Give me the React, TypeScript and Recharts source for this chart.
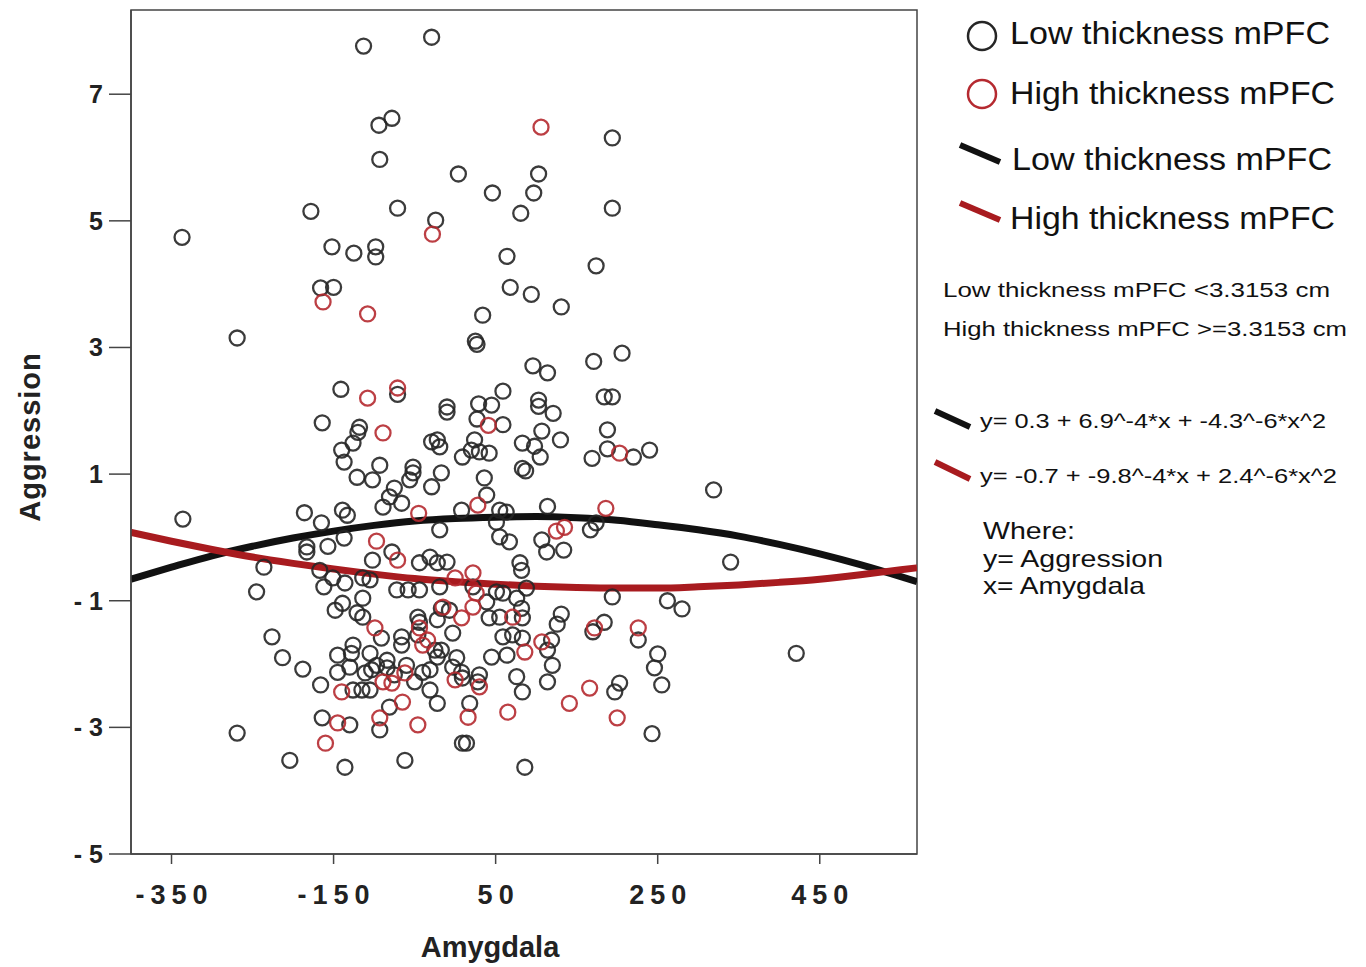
import React from 'react';
import { ComposedChart, Scatter, Line, XAxis, YAxis, ReferenceArea } from 'recharts';

// Amygdala (x) vs Aggression (y)
const lowThickness: [number, number][] = [
  [-113, 7.76], [-29, 7.9], [-94, 6.51], [-78, 6.62], [-93, 5.97], [4, 5.74], [46, 5.44], [103, 5.74],
  [97, 5.44], [81, 5.12], [194, 6.31], [194, 5.2], [-71, 5.2], [-24, 5.01], [-178, 5.15], [-337, 4.74],
  [-152, 4.59], [-125, 4.49], [-98, 4.59], [-98, 4.43], [-166, 3.94], [-150, 3.95], [64, 4.44], [68, 3.95],
  [94, 3.84], [174, 4.29], [131, 3.64], [34, 3.51], [25, 3.1], [27, 3.05], [-269, 3.15], [206, 2.91],
  [171, 2.78], [96, 2.71], [114, 2.6], [-141, 2.34], [-71, 2.26], [59, 2.31], [184, 2.22], [194, 2.22],
  [103, 2.17], [-10, 2.06], [-10, 1.98], [29, 2.11], [45, 2.09], [27, 1.87], [59, 1.78], [-118, 1.74],
  [-120, 1.66], [-29, 1.51], [-22, 1.54], [-19, 1.43], [24, 1.54], [-126, 1.49], [-137, 1.19], [9, 1.27],
  [20, 1.38], [30, 1.35], [42, 1.33], [83, 1.49], [83, 1.09], [-93, 1.14], [-121, 0.95], [-102, 0.91],
  [-52, 1.11], [-52, 1.02], [-56, 0.91], [-17, 1.02], [-29, 0.8], [36, 0.94], [39, 0.67], [-75, 0.78],
  [-81, 0.64], [-66, 0.54], [-89, 0.48], [-139, 0.43], [-133, 0.35], [8, 0.43], [-19, 0.12], [55, 0.43],
  [63, 0.4], [51, 0.24], [55, 0.01], [67, -0.07], [-137, -0.01], [-78, -0.23], [-102, -0.36], [-44, -0.4],
  [-31, -0.31], [-22, -0.4], [-10, -0.39], [80, -0.4], [82, -0.52], [-114, -0.64], [-164, 1.81], [-140, 1.38],
  [-336, 0.29], [-186, 0.39], [-165, 0.23], [-183, -0.15], [-183, -0.23], [-157, -0.14], [-236, -0.47],
  [-167, -0.52], [-151, -0.64], [103, 2.07], [121, 1.96], [107, 1.68], [188, 1.7], [130, 1.54], [98, 1.44],
  [105, 1.27], [87, 1.05], [169, 1.25], [188, 1.4], [220, 1.27], [240, 1.38], [319, 0.75], [114, 0.49],
  [167, 0.12], [174, 0.23], [107, -0.04], [113, -0.23], [134, -0.2], [340, -0.39], [-245, -0.86],
  [-226, -1.57], [-213, -1.9], [-188, -2.08], [-166, -2.33], [-269, -3.09], [-204, -3.52], [-164, -2.85],
  [-162, -0.78], [-148, -1.15], [-139, -1.04], [-145, -1.86], [-145, -2.13], [-136, -3.63], [-136, -0.72],
  [-105, -0.67], [-72, -0.83], [-58, -0.83], [-44, -0.83], [-19, -0.78], [22, -0.78], [51, -0.86], [59, -0.88],
  [76, -0.96], [88, -0.8], [-114, -0.96], [-121, -1.19], [-114, -1.26], [-17, -1.12], [-7, -1.15], [39, -1.02],
  [42, -1.27], [55, -1.26], [82, -1.12], [-46, -1.26], [-44, -1.34], [-22, -1.3], [-91, -1.59], [-66, -1.57],
  [-66, -1.7], [-46, -1.54], [-3, -1.51], [59, -1.57], [71, -1.54], [83, -1.59], [64, -1.86], [45, -1.89],
  [-126, -1.7], [-128, -1.83], [-105, -1.83], [-130, -2.05], [-111, -2.14], [-103, -2.09], [-97, -2.02],
  [-84, -1.94], [-84, -2.06], [-60, -2.02], [-40, -2.13], [-31, -2.09], [-25, -1.78], [-17, -1.78], [-22, -1.89],
  [2, -1.9], [-3, -2.05], [8, -2.13], [9, -2.22], [30, -2.17], [28, -2.28], [76, -2.2], [83, -2.44],
  [-75, -2.17], [-50, -2.28], [-31, -2.41], [-126, -2.41], [-115, -2.41], [-105, -2.41], [-81, -2.68],
  [-22, -2.62], [-93, -3.04], [18, -2.62], [9, -3.25], [14, -3.25], [-130, -2.96], [-62, -3.52], [86, -3.63],
  [194, -0.94], [262, -1.0], [280, -1.13], [131, -1.21], [126, -1.37], [184, -1.34], [170, -1.49], [226, -1.62],
  [83, -1.27], [119, -1.62], [114, -1.78], [120, -2.02], [250, -1.84], [246, -2.06], [255, -2.33], [114, -2.28],
  [203, -2.3], [197, -2.44], [243, -3.1], [421, -1.83],
];

const highThickness: [number, number][] = [
  [106, 6.48], [-28, 4.79], [-163, 3.72], [-108, 3.53], [-108, 2.2], [-71, 2.36], [-89, 1.65], [41, 1.77],
  [28, 0.51], [-45, 0.38], [-97, -0.06], [-71, -0.36], [22, -0.56], [0, -0.64], [203, 1.33], [186, 0.46],
  [125, 0.1], [135, 0.16], [-140, -2.44], [-145, -2.93], [-160, -3.25], [26, -0.88], [-15, -1.1], [22, -1.1],
  [8, -1.27], [71, -1.26], [-99, -1.43], [-44, -1.43], [-34, -1.62], [86, -1.81], [-40, -1.7], [-62, -2.14],
  [0, -2.25], [30, -2.36], [-89, -2.28], [-78, -2.3], [-65, -2.6], [-93, -2.85], [-46, -2.96], [16, -2.84],
  [65, -2.76], [172, -1.43], [226, -1.43], [107, -1.65], [166, -2.38], [141, -2.62], [200, -2.85],
];

// fitted quadratic curves, sampled along the x axis
const curveX = [-400, -350, -300, -250, -200, -150, -100, -50, 0, 50, 100, 150, 200, 250, 300, 350, 400, 450, 500, 550, 570];
const lowFitY = [-0.66, -0.47, -0.29, -0.14, -0.01, 0.1, 0.19, 0.26, 0.3, 0.32, 0.33, 0.31, 0.27, 0.2, 0.12, 0.02, -0.11, -0.26, -0.43, -0.62, -0.7];
const highFitY = [0.08, -0.06, -0.19, -0.31, -0.41, -0.5, -0.58, -0.65, -0.7, -0.74, -0.77, -0.79, -0.8, -0.8, -0.78, -0.75, -0.71, -0.66, -0.59, -0.51, -0.48];

const xTicks = [-350, -150, 50, 250, 450];
const yTicks = [-5, -3, -1, 1, 3, 5, 7];

const toPoints = (arr: [number, number][]) => arr.map(([x, y]) => ({ x, y }));
const lowData = toPoints(lowThickness);
const highData = toPoints(highThickness);
const lowFit = curveX.map((x, i) => ({ x, y: lowFitY[i] }));
const highFit = curveX.map((x, i) => ({ x, y: highFitY[i] }));

const BLACK = '#262626';
const RED = '#b52a30';
const LINE_RED = '#a81b1f';
const FONT = '"Liberation Sans", Arial, sans-serif';

const ring = (color: string) => (props: any) => (
  <circle cx={props.cx} cy={props.cy} r={7.5} fill="none" stroke={color} strokeWidth={2.3} strokeOpacity={0.9} />
);

const YTick = ({ x, y, payload }: any) => (
  <text x={x} y={y} dy={9} textAnchor="end" fontSize={25} fontWeight="bold" fontFamily={FONT} fill="#222">
    {payload.value < 0 ? `- ${Math.abs(payload.value)}` : payload.value}
  </text>
);

const XTick = ({ x, y, payload }: any) => (
  <text x={x + 3} y={y} dy={40} textAnchor="middle" fontSize={27} fontWeight="bold" fontFamily={FONT} fill="#222" letterSpacing={6}>
    {payload.value}
  </text>
);

const Overlay = () => (
  <svg width={1366} height={967} style={{ position: 'absolute', left: 0, top: 0, pointerEvents: 'none' }}>
    <text transform="translate(40,437) rotate(-90)" textAnchor="middle" fontSize={29} fontWeight="bold" fontFamily={FONT} fill="#222" letterSpacing={1}>
      Aggression
    </text>
    <text x={490} y={957} textAnchor="middle" fontSize={29} fontWeight="bold" fontFamily={FONT} fill="#222">
      Amygdala
    </text>

    <circle cx={982} cy={36} r={14} fill="none" stroke={BLACK} strokeWidth={2.5} />
    <text x={1010} y={44} fontSize={31} fontFamily={FONT} fill="#111" textLength={320} lengthAdjust="spacingAndGlyphs">Low thickness mPFC</text>
    <circle cx={982} cy={94} r={14} fill="none" stroke={RED} strokeWidth={2.5} />
    <text x={1010} y={104} fontSize={31} fontFamily={FONT} fill="#111" textLength={325} lengthAdjust="spacingAndGlyphs">High thickness mPFC</text>
    <line x1={960} y1={145} x2={1000} y2={162} stroke="#111" strokeWidth={6} />
    <text x={1012} y={170} fontSize={31} fontFamily={FONT} fill="#111" textLength={320} lengthAdjust="spacingAndGlyphs">Low thickness mPFC</text>
    <line x1={960} y1={203} x2={1000} y2={220} stroke={LINE_RED} strokeWidth={6} />
    <text x={1010} y={229} fontSize={31} fontFamily={FONT} fill="#111" textLength={325} lengthAdjust="spacingAndGlyphs">High thickness mPFC</text>

    <text x={943} y={297} fontSize={20} fontFamily={FONT} fill="#111" textLength={387} lengthAdjust="spacingAndGlyphs">Low thickness mPFC &lt;3.3153 cm</text>
    <text x={943} y={336} fontSize={20} fontFamily={FONT} fill="#111" textLength={404} lengthAdjust="spacingAndGlyphs">High thickness mPFC &gt;=3.3153 cm</text>

    <line x1={935} y1={411} x2={970} y2={427} stroke="#111" strokeWidth={6} />
    <text x={980} y={428} fontSize={20} fontFamily={FONT} fill="#111" textLength={346} lengthAdjust="spacingAndGlyphs">y= 0.3 + 6.9^-4*x + -4.3^-6*x^2</text>
    <line x1={935} y1={462} x2={970} y2={479} stroke={LINE_RED} strokeWidth={6} />
    <text x={980} y={483} fontSize={20} fontFamily={FONT} fill="#111" textLength={357} lengthAdjust="spacingAndGlyphs">y= -0.7 + -9.8^-4*x + 2.4^-6*x^2</text>

    <text x={983} y={539} fontSize={24} fontFamily={FONT} fill="#111" textLength={92} lengthAdjust="spacingAndGlyphs">Where:</text>
    <text x={983} y={567} fontSize={24} fontFamily={FONT} fill="#111" textLength={180} lengthAdjust="spacingAndGlyphs">y= Aggression</text>
    <text x={983} y={594} fontSize={24} fontFamily={FONT} fill="#111" textLength={162} lengthAdjust="spacingAndGlyphs">x= Amygdala</text>
  </svg>
);

export default function App() {
  return (
    <div style={{ position: 'absolute', left: 0, top: 0, width: 1366, height: 967, background: '#fff' }}>
      <ComposedChart width={1366} height={967} margin={{ top: 10, right: 449, left: 71, bottom: 53 }}>
        <XAxis
          type="number"
          dataKey="x"
          domain={[-400, 570]}
          ticks={xTicks}
          allowDataOverflow
          tick={<XTick />}
          tickSize={10}
          tickMargin={0}
          height={60}
          axisLine={{ stroke: '#444', strokeWidth: 1.5 }}
          tickLine={{ stroke: '#444', strokeWidth: 1.5 }}
        />
        <YAxis
          type="number"
          dataKey="y"
          domain={[-5, 8.33]}
          ticks={yTicks}
          allowDataOverflow
          tick={<YTick />}
          tickSize={22}
          tickMargin={6}
          width={60}
          axisLine={{ stroke: '#444', strokeWidth: 1.5 }}
          tickLine={{ stroke: '#444', strokeWidth: 1.5 }}
        />
        <ReferenceArea x1={-400} x2={570} y1={-5} y2={8.33} fill="none" stroke="#444" strokeWidth={1.5} />
        <Scatter data={lowData} shape={ring(BLACK)} isAnimationActive={false} />
        <Scatter data={highData} shape={ring(RED)} isAnimationActive={false} />
        <Line data={lowFit} dataKey="y" type="monotone" stroke="#111" strokeWidth={7} dot={false} isAnimationActive={false} />
        <Line data={highFit} dataKey="y" type="monotone" stroke={LINE_RED} strokeWidth={7} dot={false} isAnimationActive={false} />
      </ComposedChart>
      <Overlay />
    </div>
  );
}
